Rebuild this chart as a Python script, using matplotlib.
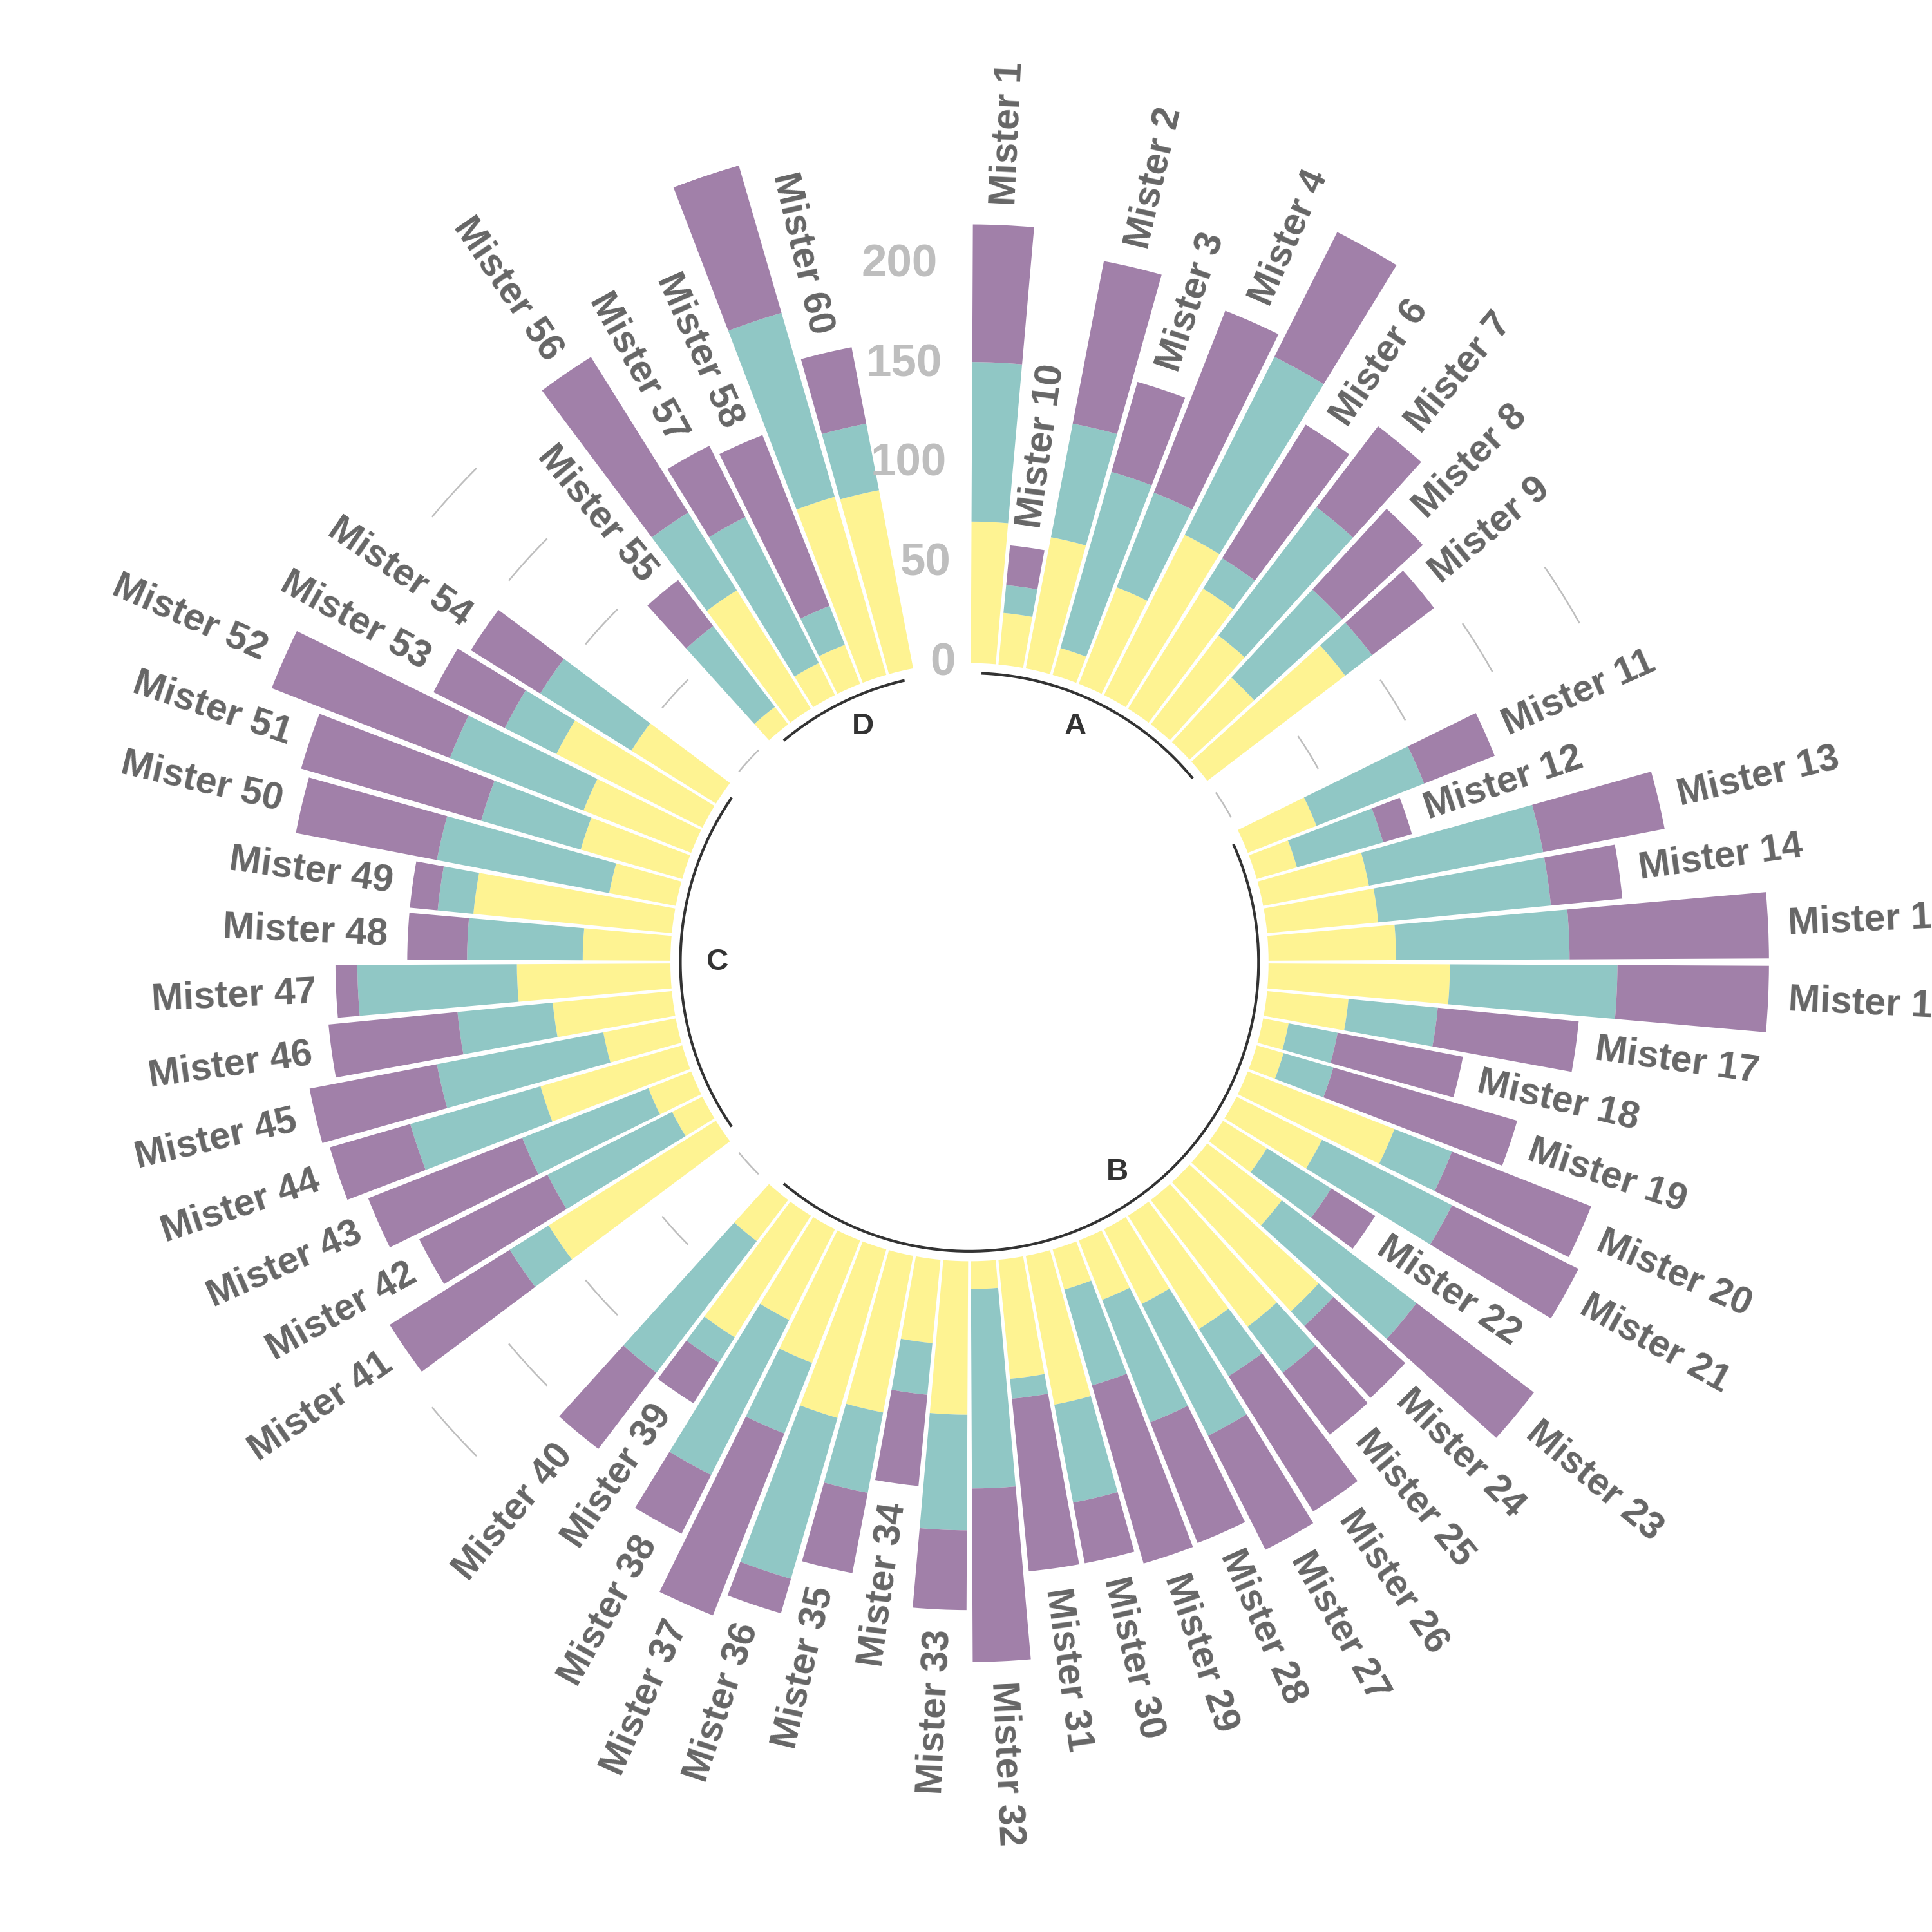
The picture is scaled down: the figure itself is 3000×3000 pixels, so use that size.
import numpy as np
import pandas as pd
import matplotlib
matplotlib.use("Agg")
import matplotlib.pyplot as plt

plt.rcParams['font.family'] = ['Liberation Sans', 'DejaVu Sans']

# data: 60 individuals in 4 groups, 3 stacked observations each
individuals = ["Mister %d" % i for i in range(1, 61)]
groups = ["A"] * 10 + ["B"] * 30 + ["C"] * 14 + ["D"] * 6

# outer (purple)
value1 = [69, 83, 47, 98, 70, 79, 51, 55, 39, 20,
          38, 15, 62, 36, 100, 76, 71, 64, 96, 75,
          71, 26, 74, 49, 39, 80, 64, 65, 93, 31,
          87, 87, 40, 46, 41, 18, 98, 33, 24, 48,
          71, 72, 83, 42, 65, 65, 11, 30, 14, 72,
          94, 96, 40, 41, 29, 92, 40, 92, 77, 39]
# middle (teal)
value2 = [80, 58, 92, 51, 100, 18, 81, 60, 17, 14,
          58, 45, 89, 87, 87, 84, 45, 25, 26, 31,
          73, 38, 85, 10, 29, 28, 74, 66, 50, 50,
          10, 100, 58, 26, 41, 84, 38, 87, 15, 83,
          23, 70, 68, 68, 85, 48, 80, 58, 18, 88,
          52, 72, 29, 54, 51, 46, 82, 21, 96, 34]
# inner (yellow)
value3 = [71, 67, 14, 52, 90, 71, 56, 44, 87, 26,
          37, 21, 54, 56, 64, 91, 41, 13, 14, 79,
          48, 26, 47, 88, 80, 67, 42, 32, 21, 76,
          60, 14, 77, 42, 80, 88, 66, 51, 72, 26,
          99, 17, 23, 74, 37, 60, 77, 44, 100, 34,
          53, 58, 82, 50, 11, 70, 18, 21, 93, 91]

grid_values = [0, 50, 100, 150, 200]
colors = {"value1": "#A180A9", "value2": "#90C7C5", "value3": "#FEF392"}

data = pd.DataFrame({"individual": individuals, "group": groups,
                     "value1": value1, "value2": value2, "value3": value3})
data = data.sort_values(["group", "individual"]).reset_index(drop=True)

# empty bars at the end of each group
empty_bar = 2
parts = []
for g, sub in data.groupby("group"):
    parts.append(sub)
    parts.append(pd.DataFrame({"individual": [None] * empty_bar, "group": [g] * empty_bar}))
data = pd.concat(parts, ignore_index=True)
data["id"] = np.arange(1, len(data) + 1)
n_bar = len(data)

def theta(i):
    return (np.asarray(i, dtype=float) - 0.5) * 2 * np.pi / n_bar

bars = data.dropna(subset=["individual"]).copy()
bars["tot"] = bars.value1 + bars.value2 + bars.value3
ymax = bars.tot.max()

fig = plt.figure(figsize=(10, 10), dpi=300)
half = 0.4293
ax = fig.add_axes([0.5018 - half, 0.502 - half, 2 * half, 2 * half], projection="polar")
ax.set_theta_zero_location("N")
ax.set_theta_direction(-1)
ax.set_ylim(-150, ymax)
ax.set_axis_off()

w = 0.9 * 2 * np.pi / n_bar
th = theta(bars.id)
ax.bar(th, bars.value3, width=w, bottom=0, color=colors["value3"], linewidth=0)
ax.bar(th, bars.value2, width=w, bottom=bars.value3, color=colors["value2"], linewidth=0)
ax.bar(th, bars.value1, width=w, bottom=bars.value3 + bars.value2,
       color=colors["value1"], linewidth=0)

# grey scale segments in the gaps between groups
base = bars.groupby("group").id.agg(["min", "max"])
grp_names = list(base.index)
for k in range(1, len(grp_names)):
    a = base.loc[grp_names[k - 1], "max"] + 1
    b = base.loc[grp_names[k], "min"] - 1
    tt = np.linspace(theta(a), theta(b), 30)
    for yv in grid_values:
        ax.plot(tt, [yv] * len(tt), color="#BEBEBE", lw=0.6)

# scale labels
for yv in grid_values:
    ax.text(theta(n_bar), yv, str(yv), color="#BEBEBE", fontsize=17, fontweight="bold",
            ha="right", va="center")

# individual labels
for _, row in bars.iterrows():
    if row.tot + 10 > ymax:
        continue
    angle = 90 - 360 * (row.id - 0.5) / n_bar
    if angle < -90:
        angle += 180
        ha = "right"
    else:
        ha = "left"
    ax.text(theta(row.id), row.tot + 10, row.individual, rotation=angle,
            rotation_mode="anchor", ha=ha, va="center", fontsize=14.2,
            fontweight="bold", color="#666666")

# base lines and group names
hjust = ["right", "right", "left", "left"]
for k, g in enumerate(grp_names):
    s, e = base.loc[g, "min"], base.loc[g, "max"]
    tt = np.linspace(theta(s), theta(e), 100)
    ax.plot(tt, [-5] * len(tt), color="black", alpha=0.8, lw=1.0)
    ax.text(theta((s + e) / 2), -18, g, ha=hjust[k], va="center", fontsize=11.4,
            fontweight="bold", color="black", alpha=0.8)

fig.savefig("out.png", dpi=300, facecolor="white")
